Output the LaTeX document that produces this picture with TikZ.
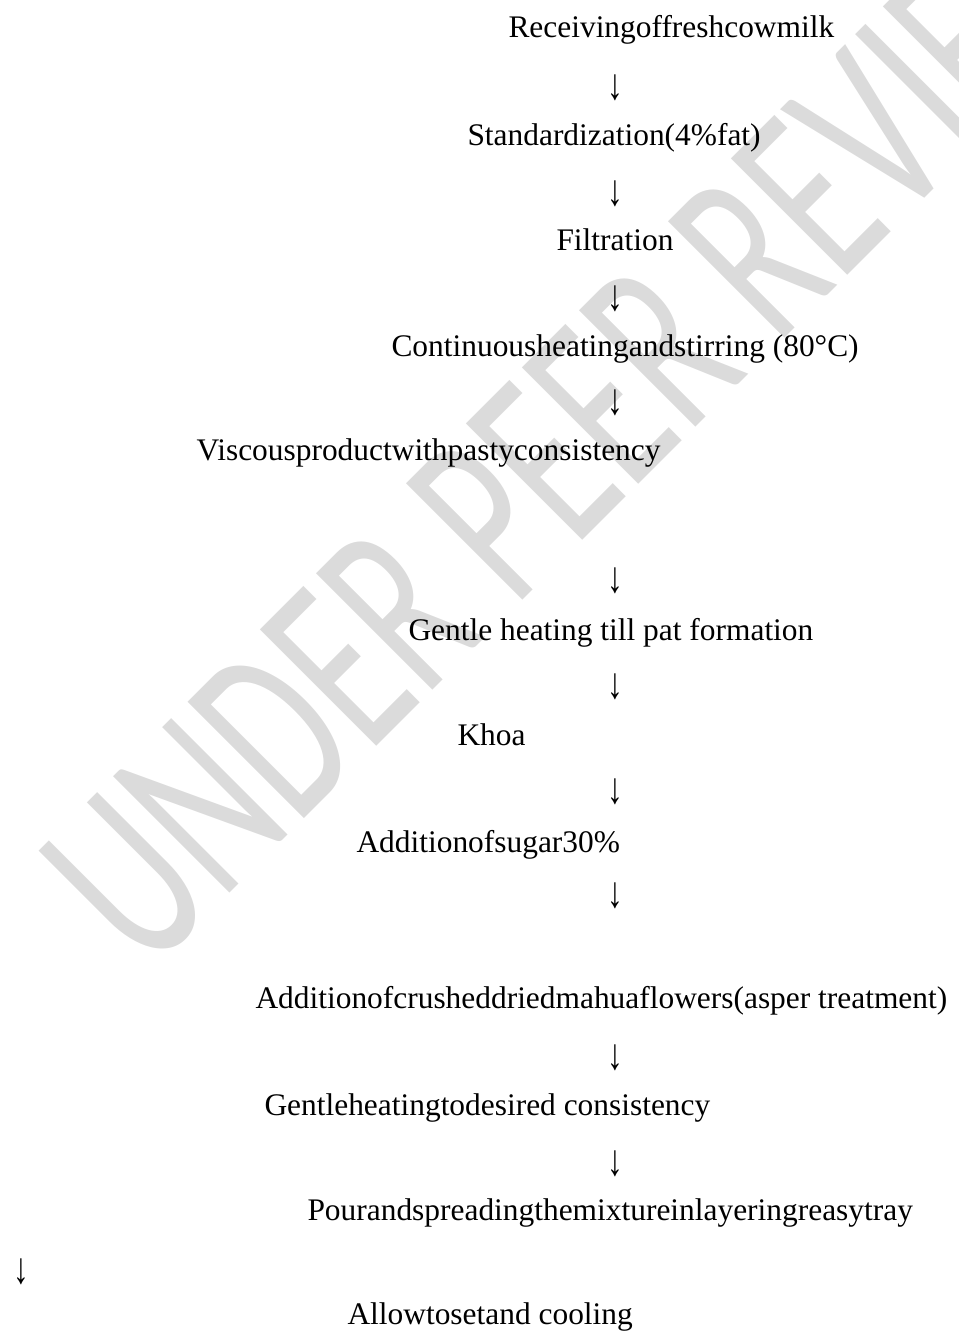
\documentclass[tikz,border=0pt]{standalone}
\usepackage{fontspec}
\setmainfont{Liberation Serif}
\newfontfamily\markfont{Carlito}
\newcommand{\dn}{\scalebox{1}[1.4]{↓}}

\begin{document}
\begin{tikzpicture}[x=0.382pt,y=-0.382pt,font=\fontsize{12}{14}\selectfont,
  stage/.style={anchor=base west,inner sep=0pt},
  down/.style={inner sep=0pt}]
\useasboundingbox (0,0) rectangle (959,1331);
% watermark behind the chart
\node[text=black!14,font=\markfont\fontsize{98}{100}\selectfont,rotate=45,inner sep=0pt] (mark) at (592,416) {\scalebox{0.64}[1]{UNDER PEER REVIEW}};
% process steps
\node[stage] (s1) at (508,37) {Receivingoffreshcowmilk};
\node[down] (d1) at (615,88) {\dn};
\node[stage] (s2) at (467,145) {Standardization(4\%fat)};
\node[down] (d2) at (615,194) {\dn};
\node[stage] (s3) at (556,250) {Filtration};
\node[down] (d3) at (615,299) {\dn};
\node[stage] (s4) at (391,356) {Continuousheatingandstirring (80°C)};
\node[down] (d4) at (615,403) {\dn};
\node[stage] (s5) at (196,460) {Viscousproductwithpastyconsistency};
\node[down] (d5) at (615,581) {\dn};
\node[stage] (s6) at (408,640) {Gentle heating till pat formation};
\node[down] (d6) at (615,687) {\dn};
\node[stage] (s7) at (457,745) {Khoa};
\node[down] (d7) at (615,792) {\dn};
\node[stage] (s8) at (356,852) {Additionofsugar30\%};
\node[down] (d8) at (615,896) {\dn};
\node[stage] (s9) at (255,1008) {Additionofcrusheddriedmahuaflowers(asper treatment)};
\node[down] (d9) at (615,1058) {\dn};
\node[stage] (s10) at (264,1115) {Gentleheatingtodesired consistency};
\node[down] (d10) at (615,1164) {\dn};
\node[stage] (s11) at (307,1220) {Pourandspreadingthemixtureinlayeringreasytray};
\node[down] (d11) at (21,1272) {\dn};
\node[stage] (s12) at (347,1324) {Allowtosetand cooling};
\end{tikzpicture}
\end{document}
